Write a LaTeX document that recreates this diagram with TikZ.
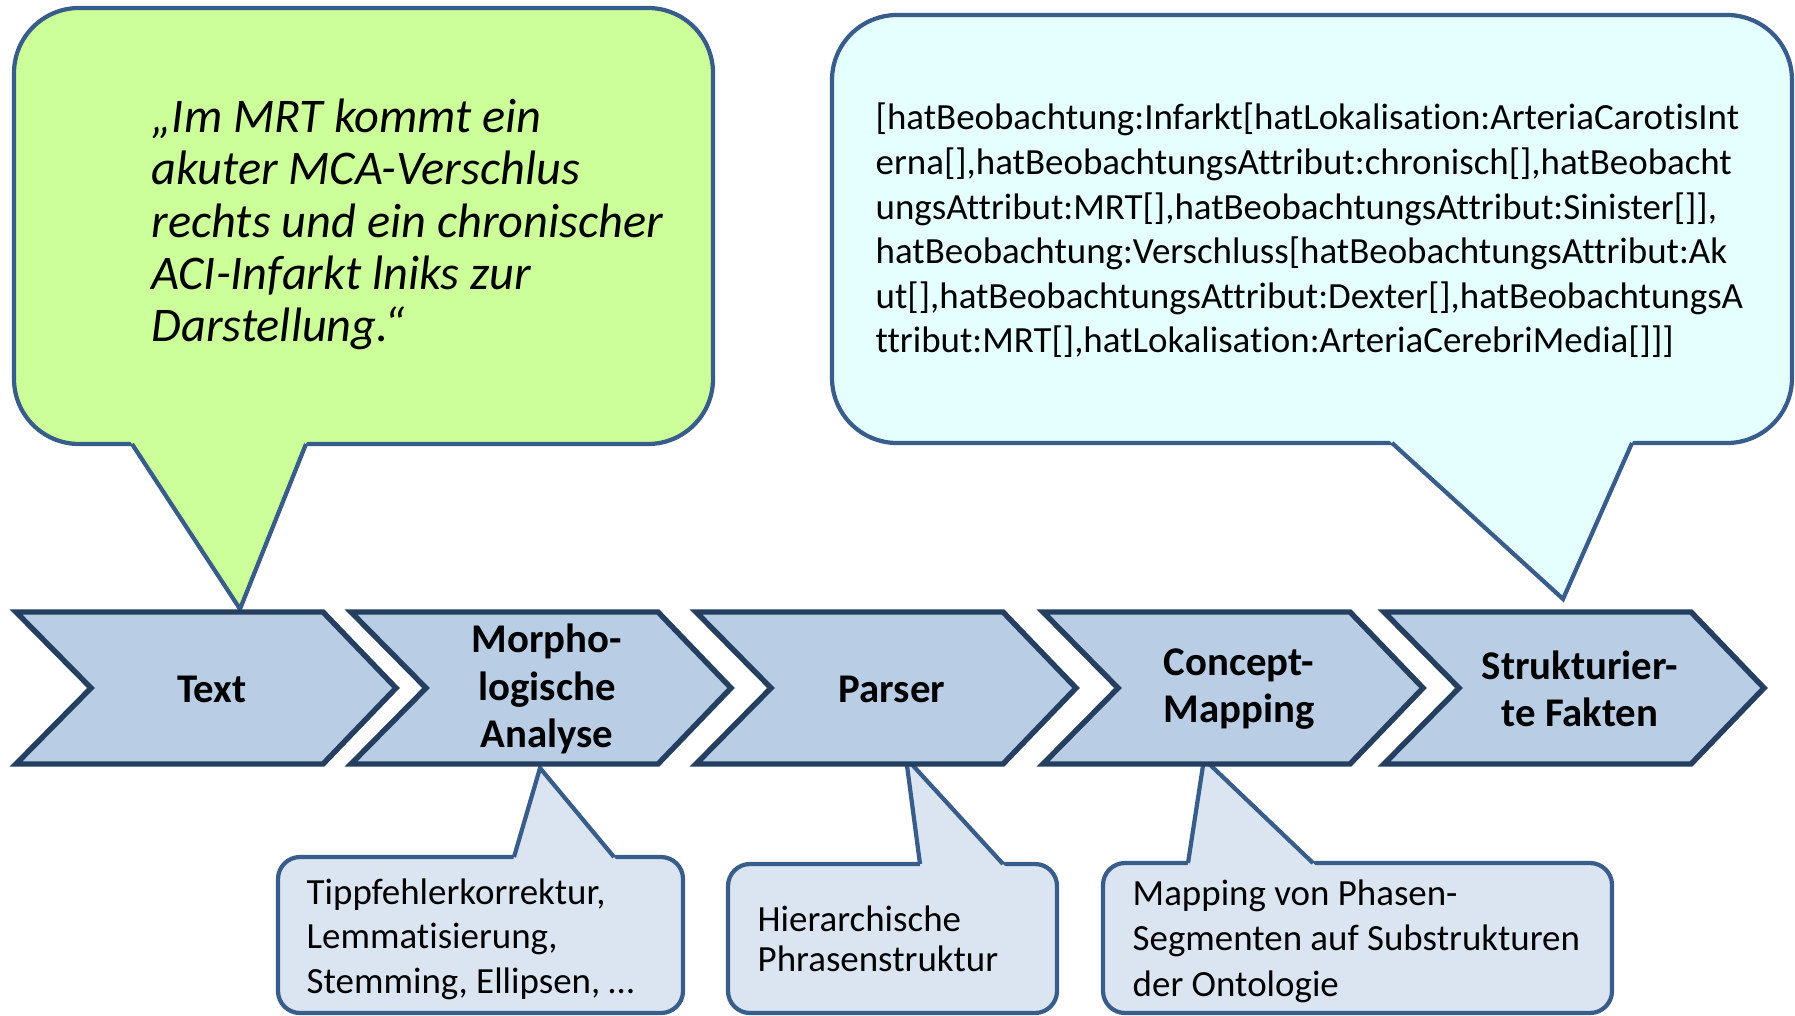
\documentclass[tikz,border=0pt]{standalone}
\usepackage{fontspec}
\setmainfont{Carlito}[Ligatures={NoCommon,NoContextual}]
\usepackage{tikz}
\usetikzlibrary{calc}

\definecolor{chevfill}{HTML}{B9CDE5}
\definecolor{chevline}{HTML}{243F60}
\definecolor{bubline}{HTML}{385D8A}
\definecolor{quotefill}{HTML}{CCFF99}
\definecolor{factfill}{HTML}{E5FFFF}
\definecolor{notefill}{HTML}{DBE5F1}

% pointer of a bubble: fill, base left x, base right x, base y, tip
\newcommand{\pointer}[5]{%
  \fill[#1] ($(#2,#4)!-0.05!(#5)$) -- (#5) -- ($(#3,#4)!-0.05!(#5)$) -- cycle;
  \draw[bubble] (#2,#4) -- (#5) -- (#3,#4);
}

\begin{document}
\begin{tikzpicture}[x=0.01cm,y=-0.01cm,
  chevron/.style={draw=chevline,fill=chevfill,line width=1.55pt,line join=miter},
  bubble/.style={draw=bubline,line width=1.2pt,line join=miter},
  steplabel/.style={font=\fontsize{11.6}{13.4}\selectfont\bfseries,align=center,inner sep=0pt},
  quotetext/.style={font=\fontsize{13.75}{14.9}\selectfont\itshape,align=left,inner sep=0pt,anchor=base west},
  notetext/.style={font=\fontsize{10.5}{12.6}\selectfont,align=left,inner sep=0pt,anchor=base west}]
\useasboundingbox (0,0) rectangle (1795,1016);

% pointer tips
\coordinate (quotetip) at (240,609);
\coordinate (facttip) at (1563,599);
\coordinate (morphtip) at (540,768);
\coordinate (parsetip) at (906,758);
\coordinate (maptip) at (1204,759);

% bubbles
\draw[bubble,fill=quotefill,rounded corners=0.65cm] (14,8) rectangle (713,444);
\pointer{quotefill}{132}{306}{444}{quotetip}
\draw[bubble,fill=factfill,rounded corners=0.65cm] (832,15) rectangle (1792,443);
\pointer{factfill}{1392}{1632}{443}{facttip}
\draw[bubble,fill=notefill,rounded corners=0.22cm] (278,857) rectangle (683,1013);
\pointer{notefill}{514}{614}{857}{morphtip}
\draw[bubble,fill=notefill,rounded corners=0.22cm] (728,864) rectangle (1057,1013);
\pointer{notefill}{920}{1003}{864}{parsetip}
\draw[bubble,fill=notefill,rounded corners=0.22cm] (1103,863) rectangle (1612,1013);
\pointer{notefill}{1188}{1313}{863}{maptip}

% texts (anchored at the baseline of their last line)
\node[quotetext] (quote) at (151,342)
{„Im MRT kommt ein\\akuter MCA-Verschlus\\rechts und ein chronischer\\ACI-Infarkt lniks zur\\Darstellung.“};
\node[notetext,font=\fontsize{10.5}{12.7}\selectfont] (facts) at (875,353)
{[hatBeobachtung:Infarkt[hatLokalisation:ArteriaCarotisInt\\erna[],hatBeobachtungsAttribut:chronisch[],hatBeobacht\\ungsAttribut:MRT[],hatBeobachtungsAttribut:Sinister[]],\\hatBeobachtung:Verschluss[hatBeobachtungsAttribut:Ak\\ut[],hatBeobachtungsAttribut:Dexter[],hatBeobachtungsA\\ttribut:MRT[],hatLokalisation:ArteriaCerebriMedia[]]]};
\node[notetext] (morphnote) at (306,993)
{Tippfehlerkorrektur,\\Lemmatisierung,\\Stemming, Ellipsen, …};
\node[notetext,font=\fontsize{10.5}{11.2}\selectfont] (parsenote) at (757,971)
{Hierarchische\\Phrasenstruktur};
\node[notetext,font=\fontsize{10.5}{12.8}\selectfont] (mapnote) at (1132,996)
{Mapping von Phasen-\\Segmenten auf Substrukturen\\der Ontologie};

% process chevrons
\foreach \x/\name/\label in {16/text/Text,351/morph/{Morpho-\\logische\\Analyse},
  696/parser/Parser,1043/concept/{Concept-\\Mapping},1384/facts5/{Strukturier-\\te Fakten}}{
  \draw[chevron] (\x,612) -- ++(307,0) -- ++(73,76) -- ++(-73,76) -- ++(-307,0) -- ++(75,-76) -- cycle;
  \node[steplabel] (\name) at (\x+196,689) {\label};
}
\end{tikzpicture}
\end{document}
